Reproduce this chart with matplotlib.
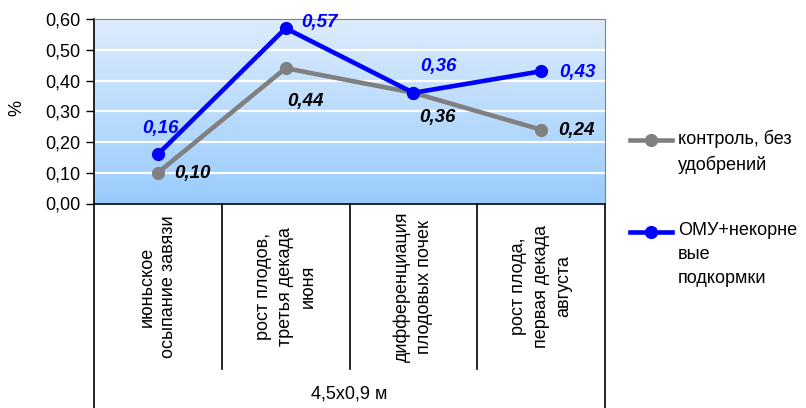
import matplotlib.pyplot as plt
import numpy as np
from matplotlib.colors import LinearSegmentedColormap
from matplotlib.lines import Line2D
import matplotlib.transforms as mtransforms

plt.rcParams["font.family"] = ["Liberation Sans", "DejaVu Sans"]

categories = [
    "июньское\nосыпание завязи",
    "рост плодов,\nтретья декада\nиюня",
    "дифференциация\nплодовых почек",
    "рост плода,\nпервая декада\nавгуста",
]
group_label = "4,5x0,9 м"
control = [0.10, 0.44, 0.36, 0.24]
omu = [0.16, 0.57, 0.36, 0.43]
control_name = "контроль, без\nудобрений"
omu_name = "ОМУ+некорне\nвые\nподкормки"
yticks = [0.0, 0.1, 0.2, 0.3, 0.4, 0.5, 0.6]

gray = "#808080"
blue = "#0000ff"
fs = 13

fig = plt.figure(figsize=(8.06, 4.08), dpi=100)
ax = fig.add_axes([94 / 806, 1 - 203.5 / 408, 511 / 806, 184.5 / 408])

x = np.arange(len(categories))
ax.set_xlim(-0.5, len(categories) - 0.5)
ax.set_ylim(0, 0.6)

# gradient background
grad = LinearSegmentedColormap.from_list("bg", ["#99ccfd", "#ddecfc"])
ax.imshow(np.linspace(0, 1, 256).reshape(-1, 1), cmap=grad, origin="lower",
          extent=[-0.5, len(categories) - 0.5, 0, 0.6], aspect="auto", zorder=0)

for t in yticks[1:]:
    ax.axhline(t, color="white", lw=1.6, zorder=1)

ax.plot(x, control, "-o", color=gray, lw=3.3, markersize=8.5, zorder=3)
ax.plot(x, omu, "-o", color=blue, lw=3.3, markersize=8.5, zorder=4)

# data labels (offsets in pixels)
ctrl_off = [(35, -1), (20, -33), (24, -25), (35, -1)]
omu_off = [(3, 26), (34, 6), (25, 26), (36, -1)]
for i in range(len(categories)):
    ax.annotate(f"{control[i]:.2f}".replace(".", ","), (x[i], control[i]),
                xytext=ctrl_off[i], textcoords="offset pixels", ha="center", va="center",
                fontsize=13.5, fontweight="bold", fontstyle="italic", color="black", zorder=5)
    ax.annotate(f"{omu[i]:.2f}".replace(".", ","), (x[i], omu[i]),
                xytext=omu_off[i], textcoords="offset pixels", ha="center", va="center",
                fontsize=13.5, fontweight="bold", fontstyle="italic", color=blue, zorder=5)

ax.set_yticks(yticks)
ax.set_yticklabels([f"{t:.2f}".replace(".", ",") for t in yticks], fontsize=fs)
ax.tick_params(axis="y", length=6, width=1, direction="out", pad=4)
ax.set_xticks([])
ax.set_ylabel("%", fontsize=fs)
ax.yaxis.set_label_coords(-0.135, 0.52)

for s in ["top", "right"]:
    ax.spines[s].set_color(gray)
for s in ["left", "bottom"]:
    ax.spines[s].set_color("black")
    ax.spines[s].set_linewidth(1.2)

# category table below the axis
tr = mtransforms.blended_transform_factory(ax.transData, ax.transAxes)
for b in np.arange(0.5, len(categories) - 1, 1.0):
    ax.plot([b, b], [0, -0.895], color="black", lw=1.2, transform=tr, clip_on=False)
for b in [-0.5, len(categories) - 0.5]:
    ax.plot([b, b], [0, -1.15], color="black", lw=1.2, transform=tr, clip_on=False)
for i, c in enumerate(categories):
    ax.text(x[i], -0.45, c, transform=tr, rotation=90, ha="center", va="center",
            multialignment="center", fontsize=fs, linespacing=1.4)
ax.text(1.5, -1.035, group_label, transform=tr, ha="center", va="center", fontsize=fs)

# legend
for yy, col, name in [(140, gray, control_name), (232, blue, omu_name)]:
    fig.add_artist(Line2D([630 / 806, 672 / 806], [1 - yy / 408] * 2, color=col, lw=3.3,
                          transform=fig.transFigure))
    fig.add_artist(Line2D([651 / 806], [1 - yy / 408], color=col, marker="o", markersize=8.5,
                          transform=fig.transFigure))
    fig.text(678 / 806, 1 - (yy - 10) / 408, name, ha="left", va="top",
             fontsize=fs, linespacing=1.55)

fig.savefig("out.png", dpi=100)
